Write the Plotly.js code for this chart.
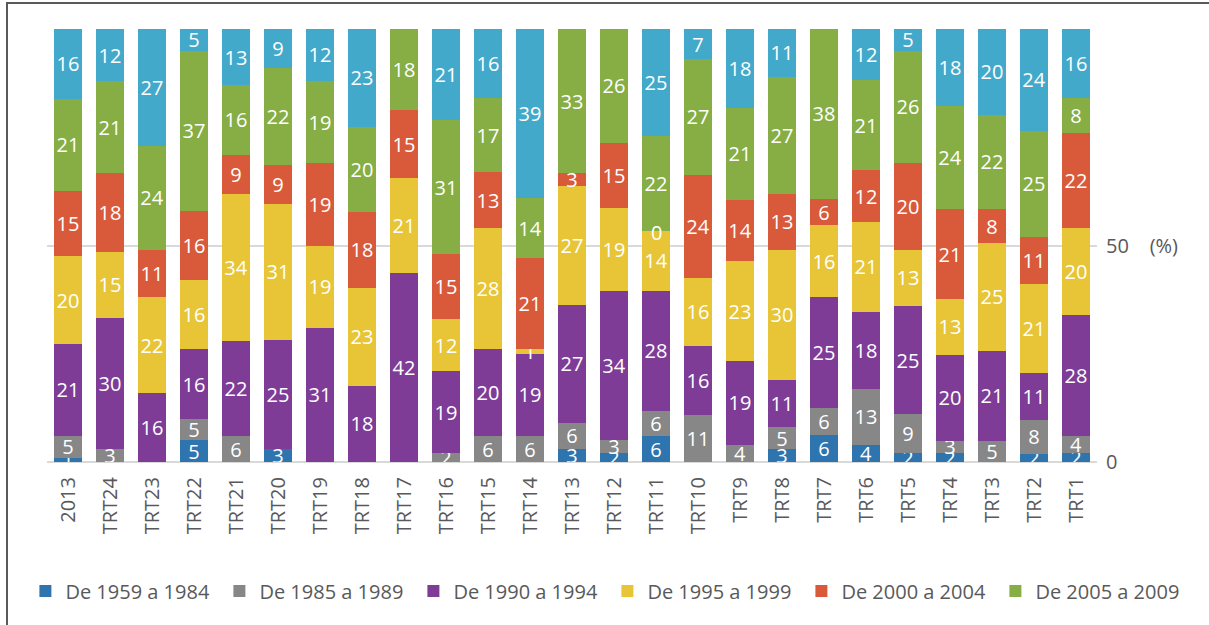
<!DOCTYPE html>
<html>
<head>
<meta charset="utf-8">
<script src="https://cdn.plot.ly/plotly-3.0.1.min.js"></script>
<style>
  html, body { margin: 0; padding: 0; background: #ffffff; }
  #chart { width: 1209px; height: 625px; }
</style>
</head>
<body>
<div id="chart"></div>
<script>
// Categories (x axis)
const categories = ["2013", "TRT24", "TRT23", "TRT22", "TRT21", "TRT20", "TRT19", "TRT18", "TRT17",
  "TRT16", "TRT15", "TRT14", "TRT13", "TRT12", "TRT11", "TRT10", "TRT9", "TRT8", "TRT7",
  "TRT6", "TRT5", "TRT4", "TRT3", "TRT2", "TRT1"];

// Series values (%), null = no segment
const de1959a1984 = [1, null, null, 5, null, 3, null, null, null, null, null, null, 3, 2, 6, null, null, 3, 6, 4, 2, 2, null, 2, 2];
const de1985a1989 = [5, 3, null, 5, 6, null, null, null, null, 2, 6, 6, 6, 3, 6, 11, 4, 5, 6, 13, 9, 3, 5, 8, 4];
const de1990a1994 = [21, 30, 16, 16, 22, 25, 31, 18, 42, 19, 20, 19, 27, 34, 28, 16, 19, 11, 25, 18, 25, 20, 21, 11, 28];
const de1995a1999 = [20, 15, 22, 16, 34, 31, 19, 23, 21, 12, 28, 1, 27, 19, 14, 16, 23, 30, 16, 21, 13, 13, 25, 21, 20];
const de2000a2004 = [15, 18, 11, 16, 9, 9, 19, 18, 15, 15, 13, 21, 3, 15, 0, 24, 14, 13, 6, 12, 20, 21, 8, 11, 22];
const de2005a2009 = [21, 21, 24, 37, 16, 22, 19, 20, 18, 31, 17, 14, 33, 26, 22, 27, 21, 27, 38, 21, 26, 24, 22, 25, 8];
const de2010a2013 = [16, 12, 27, 5, 13, 9, 12, 23, null, 21, 16, 39, null, null, 25, 7, 18, 11, null, 12, 5, 18, 20, 24, 16];

// Y tick labels
const yTickVals = [0, 50];
const yTickText = ["0", "50    (%)"];

const series = [
  { name: "De 1959 a 1984", values: de1959a1984, color: "#2E75B0", legend: true },
  { name: "De 1985 a 1989", values: de1985a1989, color: "#878787", legend: true },
  { name: "De 1990 a 1994", values: de1990a1994, color: "#7E3C97", legend: true },
  { name: "De 1995 a 1999", values: de1995a1999, color: "#E7C536", legend: true },
  { name: "De 2000 a 2004", values: de2000a2004, color: "#D95A3B", legend: true },
  { name: "De 2005 a 2009", values: de2005a2009, color: "#86AE44", legend: true },
  { name: "De 2010 a 2013", values: de2010a2013, color: "#43A9CA", legend: false }
];

const FONT = "'Open Sans', Lato, sans-serif";

const traces = series.map(s => ({
  type: "bar",
  name: s.name,
  x: categories,
  y: s.values,
  text: s.values.map(v => (v === null ? "" : String(v))),
  texttemplate: "%{text}",
  textposition: "inside",
  insidetextanchor: "middle",
  constraintext: "none",
  textangle: 0,
  textfont: { family: FONT, size: 20, color: "#ffffff" },
  marker: { color: s.color, line: { width: 0 } },
  showlegend: s.legend,
  hoverinfo: "skip"
}));

// Zero-valued segments get no inside text from Plotly; label them at their stack position
// (position derived from the data, in the same percent-normalised scale as barnorm).
const zeroLabels = [];
categories.forEach((cat, i) => {
  const total = series.reduce((acc, s) => acc + (s.values[i] || 0), 0);
  let below = 0;
  series.forEach(s => {
    const v = s.values[i];
    if (v === 0) {
      zeroLabels.push({
        x: cat, y: below / total * 100, xref: "x", yref: "y",
        text: "0", showarrow: false, yanchor: "middle", yshift: -2,
        font: { family: FONT, size: 20, color: "#ffffff" }
      });
    }
    below += v || 0;
  });
});

const layout = {
  width: 1209,
  height: 625,
  margin: { l: 47, r: 112, t: 29, b: 163, autoexpand: false },
  paper_bgcolor: "#ffffff",
  plot_bgcolor: "#ffffff",
  barmode: "stack",
  barnorm: "percent",
  bargap: 0.31,
  font: { family: FONT, color: "#595959", size: 20 },
  xaxis: {
    type: "category",
    tickangle: -90,
    tickfont: { family: FONT, size: 20, color: "#595959" },
    ticklabelstandoff: 10,
    showgrid: false,
    showline: false,
    ticks: "",
    zeroline: false,
    fixedrange: true
  },
  yaxis: {
    side: "right",
    range: [0, 100],
    tickvals: yTickVals,
    ticktext: yTickText,
    tickfont: { family: FONT, size: 20, color: "#595959" },
    ticklabelstandoff: 8,
    showgrid: true,
    gridcolor: "#D9D9D9",
    gridwidth: 2,
    zeroline: true,
    zerolinecolor: "#D9D9D9",
    zerolinewidth: 2,
    showline: false,
    ticks: "",
    fixedrange: true
  },
  legend: {
    orientation: "h",
    x: 1.088,
    xanchor: "right",
    y: -0.298,
    yanchor: "middle",
    font: { family: FONT, size: 20, color: "#595959" },
    traceorder: "normal",
    itemwidth: 30,
    entrywidth: 149,
    entrywidthmode: "pixels"
  },
  annotations: zeroLabels,
  shapes: [{
    type: "rect",
    xref: "paper", yref: "paper",
    x0: -40 / 1050, x1: 1.12,
    y0: -0.5, y1: 1 + 26 / 433,
    line: { color: "#595959", width: 2 },
    fillcolor: "rgba(0,0,0,0)",
    layer: "below"
  }],
  showlegend: true
};

Plotly.newPlot("chart", traces, layout, { displayModeBar: false, staticPlot: true });
</script>
</body>
</html>
